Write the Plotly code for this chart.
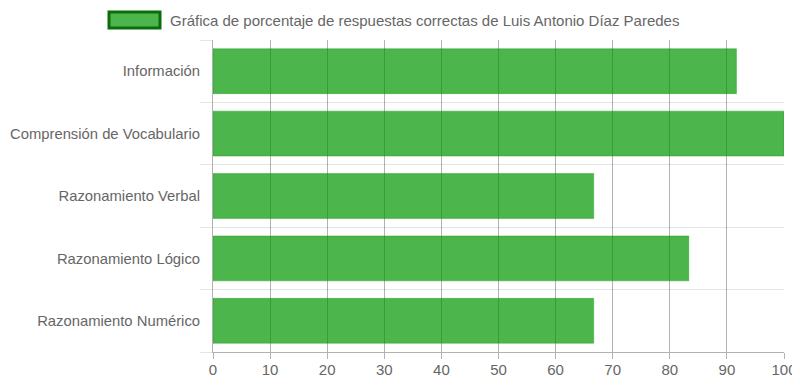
import plotly.graph_objects as go

categories = ["Información", "Comprensión de Vocabulario", "Razonamiento Verbal",
              "Razonamiento Lógico", "Razonamiento Numérico"]
values = [91.67, 100, 66.67, 83.33, 66.67]
series_name = "Gráfica de porcentaje de respuestas correctas de Luis Antonio Díaz Paredes"
x_ticks = list(range(0, 101, 10))

positions = list(range(len(categories)))

fig = go.Figure()
fig.add_trace(go.Bar(
    x=values, y=positions, orientation="h", name=series_name,
    marker=dict(color="rgba(0,150,0,0.7)", line=dict(color="rgba(0,150,0,0.35)", width=1)),
    showlegend=False,
))

font = "Liberation Sans, Arial, Helvetica, sans-serif"
fs = 15
# page body has an 8px default margin, so the figure is 8px smaller
fig.update_layout(
    width=792, height=378,
    margin=dict(l=205, r=16, t=32, b=34),
    paper_bgcolor="white", plot_bgcolor="white",
    bargap=0.28,
    font=dict(family=font, size=fs, color="#666666"),
    xaxis=dict(
        range=[0, 100], tickvals=x_ticks, ticks="outside", ticklen=6,
        tickcolor="rgba(0,0,0,0.3)", showgrid=True, gridcolor="rgba(0,0,0,0.3)",
        gridwidth=1, zeroline=False, showline=True, linecolor="rgba(0,0,0,0.3)",
        mirror=False, tickfont=dict(size=fs, color="#666666"), fixedrange=True,
        automargin=False, ticklabelstandoff=-2,
    ),
    yaxis=dict(
        range=[4.5, -0.5], tickvals=positions, ticktext=categories,
        ticks="", showgrid=False, zeroline=False, showline=True,
        linecolor="rgba(0,0,0,0.3)", ticklabelstandoff=9, automargin=False,
        minor=dict(tick0=0.5, dtick=1, showgrid=True, gridcolor="rgba(0,0,0,0.1)",
                   ticks="outside", ticklen=12, tickcolor="rgba(0,0,0,0.1)"),
        tickfont=dict(size=14.8, color="#666666"),
    ),
    shapes=[dict(type="rect", xref="paper", yref="paper",
                 x0=(109 - 213) / 571, x1=(160 - 213) / 571,
                 y0=(352 - 28) / 312, y1=(352 - 12) / 312,
                 fillcolor="rgba(0,150,0,0.7)", line=dict(color="#0a6e0a", width=3))],
    annotations=[dict(text=series_name, xref="paper", yref="paper",
                      x=(168 - 213) / 571, y=(352 - 20) / 312, xanchor="left",
                      yanchor="middle", showarrow=False,
                      font=dict(size=fs, color="#666666", family=font))],
)

fig.write_html("out.html")
